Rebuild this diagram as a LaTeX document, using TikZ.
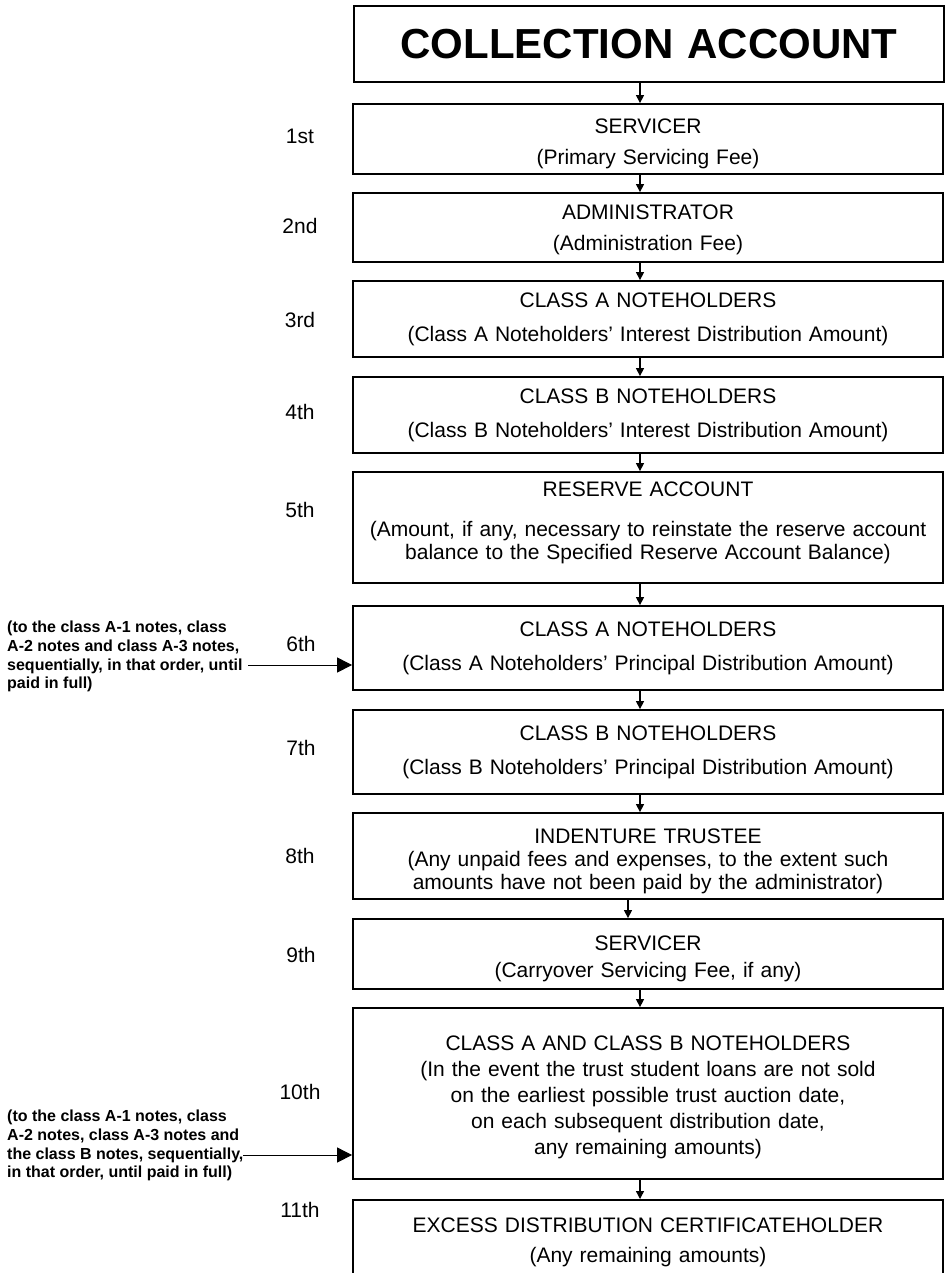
\documentclass[tikz,border=0pt]{standalone}
\usepackage{fontspec}
\setmainfont{Liberation Sans}
\usetikzlibrary{arrows.meta}

\tikzset{
	stage/.style={draw, line width=1.8pt, minimum width=590pt, text width=586pt, align=center, inner sep=0pt, font=\fontsize{21}{23}\selectfont},
	lower/.style={execute at begin node={\rule{0pt}{#1}}},
	raise/.style={execute at end node={\rule[-#1]{0pt}{0pt}}},
	rank/.style={font=\fontsize{21}{23}\selectfont},
	note/.style={align=left, anchor=north west, inner sep=0pt, font=\fontsize{16}{18.7}\selectfont\bfseries},
	flow/.style={line width=1.3pt, -{Triangle[width=8pt,length=8pt]}},
	feed/.style={line width=1pt, -{Triangle[width=15pt,length=15pt]}},
}

\begin{document}
\begin{tikzpicture}[x=1pt, y=-1pt]
	\useasboundingbox (0,0) rectangle (946,1273);
	\clip (0,0) rectangle (946,1273);
	
	%boxes
	\node[stage, minimum height=76pt, font=\fontsize{42}{46}\selectfont\bfseries] (coll) at (649,44) {COLLECTION ACCOUNT};
	\node[stage, lower=25pt, minimum height=70pt] (b1) at (648,139) {SERVICER\\[8pt](Primary Servicing Fee)};
	\node[stage, lower=19pt, minimum height=69pt] (b2) at (648,227.5) {ADMINISTRATOR\\[8pt](Administration Fee)};
	\node[stage, minimum height=76pt] (b3) at (648,319) {CLASS A NOTEHOLDERS\\[11pt](Class A Noteholders’ Interest Distribution Amount)};
	\node[stage, minimum height=76pt] (b4) at (648,415) {CLASS B NOTEHOLDERS\\[11pt](Class B Noteholders’ Interest Distribution Amount)};
	\node[stage, raise=13pt, minimum height=111pt] (b5) at (648,527.5) {RESERVE ACCOUNT\\[17pt](Amount, if any, necessary to reinstate the reserve account\\balance to the Specified Reserve Account Balance)};
	\node[stage, minimum height=84pt] (b6) at (648,648) {CLASS A NOTEHOLDERS\\[11pt](Class A Noteholders’ Principal Distribution Amount)};
	\node[stage, minimum height=84pt] (b7) at (648,752) {CLASS B NOTEHOLDERS\\[11pt](Class B Noteholders’ Principal Distribution Amount)};
	\node[stage, lower=25pt, minimum height=86pt] (b8) at (648,856) {INDENTURE TRUSTEE\\(Any unpaid fees and expenses, to the extent such\\amounts have not been paid by the administrator)};
	\node[stage, lower=25pt, minimum height=70pt] (b9) at (648,954) {SERVICER\\[4pt](Carryover Servicing Fee, if any)};
	\node[stage, lower=23pt, minimum height=171pt] (b10) at (648,1093.5) {CLASS A AND CLASS B NOTEHOLDERS\\[3pt](In the event the trust student loans are not sold\\[3pt]on the earliest possible trust auction date,\\[3pt]on each subsequent distribution date,\\[3pt]any remaining amounts)};
	\node[stage, anchor=north, inner ysep=18pt] (b11) at (648,1199) {EXCESS DISTRIBUTION CERTIFICATEHOLDER\\[7pt](Any remaining amounts)\rule[-80pt]{0pt}{0pt}};
	
	%order
	\node[rank] (r1) at (300,136) {1st};
	\node[rank] (r2) at (300,226) {2nd};
	\node[rank] (r3) at (300,320) {3rd};
	\node[rank] (r4) at (300,412) {4th};
	\node[rank] (r5) at (300,510) {5th};
	\node[rank] (r6) at (301,644) {6th};
	\node[rank] (r7) at (301,748) {7th};
	\node[rank] (r8) at (300,856) {8th};
	\node[rank] (r9) at (301,955) {9th};
	\node[rank] (r10) at (300,1092) {10th};
	\node[rank] (r11) at (300,1210) {11th};
	
	%arrows
	\coordinate (ax) at (640,0);
	\coordinate (axb) at (628,0);
	\foreach \a/\b/\c in {coll/b1/ax, b1/b2/ax, b2/b3/ax, b3/b4/ax, b4/b5/ax, b5/b6/ax, b6/b7/ax, b7/b8/ax, b8/b9/axb, b9/b10/ax, b10/b11/ax}
		\draw[flow] (\a.south -| \c) -- (\b.north -| \c);
	
	%notes
	\node[note] (n6) at (7,621) {(to the class A-1 notes, class\\A-2 notes and class A-3 notes,\\sequentially, in that order, until\\paid in full)};
	\node[note] (n10) at (7,1110) {(to the class A-1 notes, class\\A-2 notes, class A-3 notes and\\the class B notes, sequentially,\\in that order, until paid in full)};
	\coordinate (f6) at (248,665);
	\coordinate (f10) at (243,1155);
	\draw[feed] (f6) -- (f6 -| b6.west);
	\draw[feed] (f10) -- (f10 -| b10.west);
\end{tikzpicture}
\end{document}
